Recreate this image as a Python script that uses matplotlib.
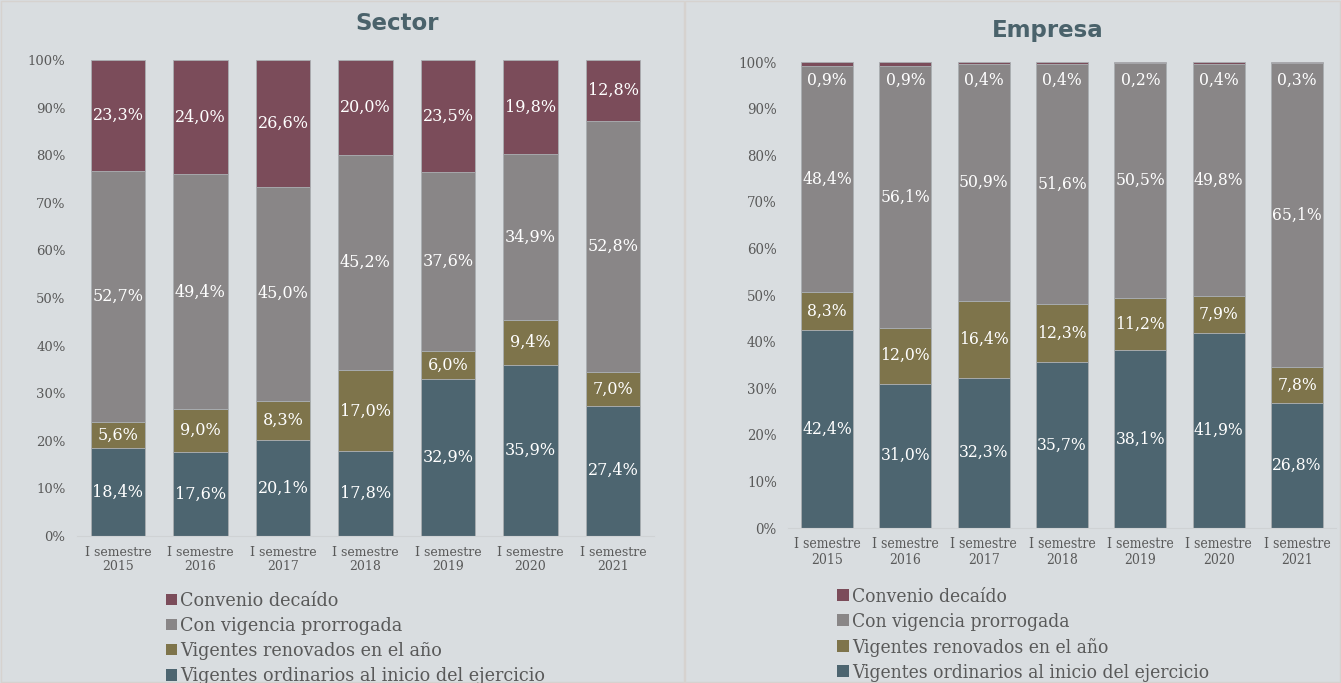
import numpy as np
import matplotlib
matplotlib.use('Agg')
import matplotlib.pyplot as plt
from matplotlib.patches import Patch, Rectangle

periods = ['I semestre\n2015', 'I semestre\n2016', 'I semestre\n2017', 'I semestre\n2018',
           'I semestre\n2019', 'I semestre\n2020', 'I semestre\n2021']
series_names = ['Vigentes ordinarios al inicio del ejercicio', 'Vigentes renovados en el año',
                'Con vigencia prorrogada', 'Convenio decaído']

sector_ordinarios = [18.4, 17.6, 20.1, 17.8, 32.9, 35.9, 27.4]
sector_renovados = [5.6, 9.0, 8.3, 17.0, 6.0, 9.4, 7.0]
sector_prorrogada = [52.7, 49.4, 45.0, 45.2, 37.6, 34.9, 52.8]
sector_decaido = [23.3, 24.0, 26.6, 20.0, 23.5, 19.8, 12.8]

empresa_ordinarios = [42.4, 31.0, 32.3, 35.7, 38.1, 41.9, 26.8]
empresa_renovados = [8.3, 12.0, 16.4, 12.3, 11.2, 7.9, 7.8]
empresa_prorrogada = [48.4, 56.1, 50.9, 51.6, 50.5, 49.8, 65.1]
empresa_decaido = [0.9, 0.9, 0.4, 0.4, 0.2, 0.4, 0.3]

colors = ['#4d6570', '#7e744b', '#898687', '#7b4c5a']
bg = '#d9dde0'
txt_gray = '#595959'
title_color = '#4a626b'
serif = 'DejaVu Serif'

fig = plt.figure(figsize=(13.41, 6.83), dpi=100)
fig.patch.set_facecolor(bg)

# panel borders
fig.add_artist(Rectangle((0.001, 0.001), 0.5088, 0.997, transform=fig.transFigure,
                         fill=False, edgecolor='#d6d2cf', lw=1))
fig.add_artist(Rectangle((0.5105, 0.001), 0.4885, 0.997, transform=fig.transFigure,
                         fill=False, edgecolor='#d6d2cf', lw=1))


def draw_panel(rect, stacks, title, title_xy, top_label_pos, legend_xy, stretch, sizes,
               xpad, lspace):
    lab_fs, ytick_fs, xtick_fs, leg_fs = sizes
    ax = fig.add_axes(rect)
    ax.set_facecolor(bg)
    x = np.arange(len(periods))
    bottom = np.zeros(len(periods))
    for i, vals in enumerate(stacks):
        vals = np.array(vals)
        ax.bar(x, vals, 0.66, bottom=bottom, color=colors[i], edgecolor='#a9aeb1',
               linewidth=0.6, zorder=2)
        for j in range(len(x)):
            if top_label_pos is not None and i == 3:
                yl = top_label_pos
            else:
                yl = bottom[j] + vals[j] / 2
            ax.text(x[j], yl, ('%.1f%%' % vals[j]).replace('.', ','), ha='center',
                    va='center', color='white', fontsize=lab_fs, family=serif,
                    fontstretch=stretch, zorder=3)
        bottom += vals
    ax.set_xlim(-0.5, len(periods) - 0.5)
    ax.set_ylim(0, 100)
    ax.set_yticks(np.arange(0, 101, 10))
    ax.set_yticklabels(['%d%%' % v for v in range(0, 101, 10)], family=serif,
                       fontsize=ytick_fs, color=txt_gray, fontstretch=stretch)
    ax.set_xticks(x)
    ax.set_xticklabels(periods, family=serif, fontsize=xtick_fs, color=txt_gray,
                       linespacing=1.15, fontstretch=stretch)
    ax.tick_params(length=0, pad=8)
    ax.tick_params(axis='x', pad=xpad)
    for s in ['top', 'right', 'left']:
        ax.spines[s].set_visible(False)
    ax.spines['bottom'].set_color('#cfd2d4')
    ax.spines['bottom'].set_linewidth(0.8)
    fig.text(title_xy[0], title_xy[1], title, ha='center', va='center',
             fontsize=16.5, fontweight='heavy', color=title_color, family='DejaVu Sans')
    handles = [Patch(facecolor=colors[k], edgecolor='none') for k in [3, 2, 1, 0]]
    labels = [series_names[k] for k in [3, 2, 1, 0]]
    fig.legend(handles, labels, loc='upper left', bbox_to_anchor=legend_xy,
               frameon=False, prop={'family': serif, 'size': leg_fs, 'stretch': stretch},
               labelcolor=txt_gray, handlelength=0.6, handleheight=0.6,
               handletextpad=0.2, labelspacing=lspace, borderaxespad=0, borderpad=0)
    return ax


draw_panel([0.0572, 0.2152, 0.4307, 0.6969],
           [sector_ordinarios, sector_renovados, sector_prorrogada, sector_decaido],
           'Sector', (397 / 1341, 1 - 23 / 683), None, (166 / 1341, 1 - 592 / 683), 'normal',
           (11.5, 9.5, 9, 12.7), 7, 0.4)
draw_panel([0.5875, 0.2269, 0.4089, 0.6823],
           [empresa_ordinarios, empresa_renovados, empresa_prorrogada, empresa_decaido],
           'Empresa', (1048 / 1341, 1 - 30 / 683), 96.0, (837 / 1341, 1 - 588 / 683), 'condensed',
           (12.5, 10.7, 10, 13.8), 6.5, 0.36)

fig.savefig('out.png', dpi=100, facecolor=bg)
